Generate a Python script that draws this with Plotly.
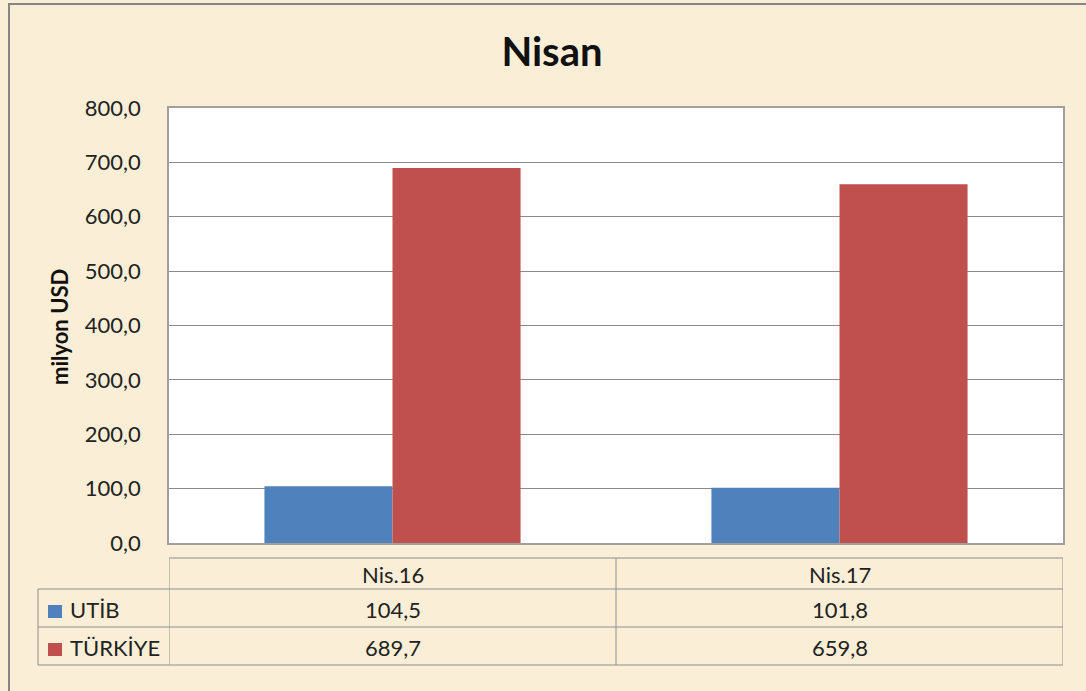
import plotly.graph_objects as go

categories = ["Nis.16", "Nis.17"]
series_names = ["UTİB", "TÜRKİYE"]
utib = [104.5, 101.8]
turkiye = [689.7, 659.8]
series_values = [utib, turkiye]
colors = ["#4F81BD", "#C0504D"]
y_ticks = [0, 100, 200, 300, 400, 500, 600, 700, 800]

W, H = 1086, 691
L, R, T, B = 169, 1063, 108, 543
FONT = "Lato"
LINE = "#8E8E8E"
TXT = "#222222"


def px(x):
    return (x - L) / (R - L)


def py(y):
    return (B - y) / (B - T)


def fmt(v):
    return f"{v:.1f}".replace(".", ",")


fig = go.Figure()
for name, vals, col in zip(series_names, series_values, colors):
    fig.add_trace(go.Bar(x=categories, y=vals, name=name, marker=dict(color=col, line=dict(width=0))))

shapes = []
annotations = []

# outer border (only left and top visible)
shapes.append(dict(type="rect", xref="paper", yref="paper", x0=px(9), x1=px(1110), y0=py(4), y1=py(720),
                   line=dict(color="#858585", width=2), layer="below"))

# data table lines
row_y = [558, 589, 627, 665]
shapes.append(dict(type="line", xref="paper", yref="paper", x0=px(L), x1=px(R), y0=py(row_y[0]), y1=py(row_y[0]),
                   line=dict(color=LINE, width=1)))
for yy in row_y[1:]:
    shapes.append(dict(type="line", xref="paper", yref="paper", x0=px(38), x1=px(R), y0=py(yy), y1=py(yy),
                       line=dict(color=LINE, width=1)))
shapes.append(dict(type="line", xref="paper", yref="paper", x0=px(38), x1=px(38), y0=py(row_y[1]), y1=py(row_y[3]),
                   line=dict(color=LINE, width=1)))
n = len(categories)
for i in range(n + 1):
    xx = i - 0.5
    shapes.append(dict(type="line", xref="x", yref="paper", x0=xx, x1=xx, y0=py(row_y[0]), y1=py(row_y[3]),
                       line=dict(color=LINE, width=1)))

# header text
for i, c in enumerate(categories):
    annotations.append(dict(x=i, y=py((row_y[0] + row_y[1]) / 2 + 1), xref="x", yref="paper", text=c, showarrow=False,
                            font=dict(family=FONT, size=22, color=TXT), xanchor="center", yanchor="middle"))
# rows
for r, (name, vals, col) in enumerate(zip(series_names, series_values, colors)):
    yc = (row_y[r + 1] + row_y[r + 2]) / 2
    shapes.append(dict(type="rect", xref="paper", yref="paper", x0=px(48), x1=px(62), y0=py(yc - 3), y1=py(yc + 10),
                       fillcolor=col, line=dict(width=0)))
    annotations.append(dict(x=px(68), y=py(yc + 1), xref="paper", yref="paper", text=name, showarrow=False,
                            font=dict(family=FONT, size=22, color=TXT), xanchor="left", yanchor="middle"))
    for i, v in enumerate(vals):
        annotations.append(dict(x=i, y=py(yc + 1), xref="x", yref="paper", text=fmt(v), showarrow=False,
                                font=dict(family=FONT, size=22, color=TXT), xanchor="center", yanchor="middle"))

# y axis title
annotations.append(dict(x=px(59), y=py(327), xref="paper", yref="paper", text="<b>milyon USD</b>", showarrow=False,
                        textangle=-90, font=dict(family=FONT, size=22, color="#111111"),
                        xanchor="center", yanchor="middle"))

fig.update_layout(
    width=W, height=H,
    margin=dict(l=L, r=W - R, t=T, b=H - B, pad=0),
    paper_bgcolor="#FAEFD6",
    plot_bgcolor="#FFFFFF",
    separators=",.",
    showlegend=False,
    barmode="group",
    bargap=0.427,
    bargroupgap=0,
    title=dict(text="<b>Nisan</b>", x=px(552), y=1 - 52 / H, xref="paper", yref="container",
               xanchor="center", yanchor="middle", font=dict(family=FONT, size=40, color="#111111")),
    xaxis=dict(showticklabels=False, showgrid=False, zeroline=False, showline=True, mirror=True,
               linecolor="#A0A0A0", linewidth=1.5, range=[-0.5, n - 0.5], fixedrange=True),
    yaxis=dict(range=[0, 800], tickvals=y_ticks, tickformat=".1f", showgrid=True, gridcolor="#8A8A8A",
               gridwidth=1, zeroline=False, showline=True, mirror=True, linecolor="#A0A0A0", linewidth=1.5,
               ticks="", ticklabelstandoff=22, tickfont=dict(family=FONT, size=22, color=TXT),
               fixedrange=True),
    shapes=shapes,
    annotations=annotations,
)

fig.write_html("out.html", config={"displayModeBar": False},
               post_script="document.body.style.margin='0';document.body.style.overflow='hidden';")
